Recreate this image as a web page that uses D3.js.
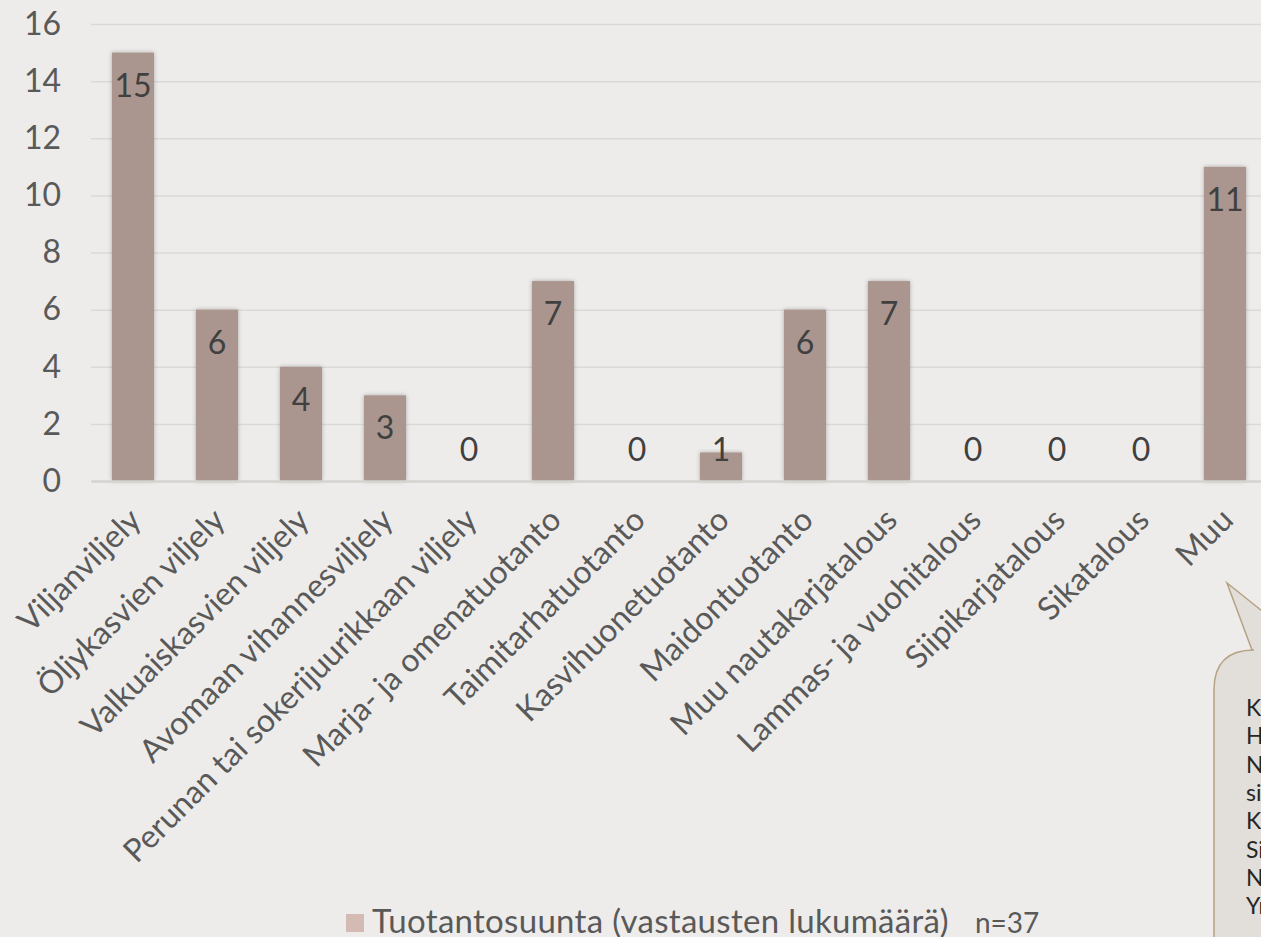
<!DOCTYPE html>
<html>
<head>
<meta charset="UTF-8">
<title>Tuotantosuunta</title>
<script src="https://cdnjs.cloudflare.com/ajax/libs/d3/7.8.5/d3.min.js"></script>
<style>
html, body { margin: 0; padding: 0; background: #edecea; overflow: hidden; }
svg { display: block; font-family: Lato, "Open Sans", sans-serif; }
</style>
</head>
<body>
<script>
// tuotantosuunnat ja vastausten lukumäärät
var categories = ["Viljanviljely", "Öljykasvien viljely", "Valkuaiskasvien viljely",
  "Avomaan vihannesviljely", "Perunan tai sokerijuurikkaan viljely", "Marja- ja omenatuotanto",
  "Taimitarhatuotanto", "Kasvihuonetuotanto", "Maidontuotanto", "Muu nautakarjatalous",
  "Lammas- ja vuohitalous", "Siipikarjatalous", "Sikatalous", "Muu"];
var values = [15, 6, 4, 3, 0, 7, 0, 1, 6, 7, 0, 0, 0, 11];
var yTicks = [0, 2, 4, 6, 8, 10, 12, 14, 16];
var seriesName = "Tuotantosuunta (vastausten lukumäärä)";
var nText = "n=37";
// kommenttilaatikon rivit (leikkautuvat kuvan reunaan)
var noteLines = ["Kuminan viljely", "Hevostalous", "Nurmen", "siementuotanto",
  "Kanatalous", "Sienet", "Nurmikasvit", "Yrtit"];

var W = 1261, H = 937;
var plotLeft = 91, plotRight = 1267, plotTop = 24, plotBottom = 481;

var svg = d3.select("body").append("svg")
    .attr("width", W)
    .attr("height", H);

svg.append("rect").attr("width", W).attr("height", H).attr("fill", "#edecea");

var defs = svg.append("defs");
var shadow = defs.append("filter").attr("id", "shadow")
    .attr("x", "-30%").attr("y", "-10%").attr("width", "160%").attr("height", "120%");
shadow.append("feDropShadow")
    .attr("dx", 0).attr("dy", 0)
    .attr("stdDeviation", 2)
    .attr("flood-color", "#000")
    .attr("flood-opacity", 0.28);

var x = d3.scaleBand()
    .domain(categories)
    .range([plotLeft, plotRight])
    .paddingInner(0.5)
    .paddingOuter(0.25);

var y = d3.scaleLinear()
    .domain([0, 16])
    .range([plotBottom, plotTop]);

// gridlines + y-akseli
var yAxis = svg.append("g")
    .attr("transform", "translate(" + plotLeft + ",0)")
    .call(d3.axisLeft(y).tickValues(yTicks).tickSize(-(plotRight - plotLeft)).tickPadding(30));
yAxis.select(".domain").remove();
yAxis.selectAll(".tick line")
    .attr("stroke", "#dbd9d5")
    .attr("stroke-width", 1.5);
yAxis.selectAll(".tick text")
    .attr("fill", "#595959")
    .attr("font-size", 32)
    .attr("font-family", "Lato");

// palkit
svg.append("g").selectAll("rect")
    .data(values)
    .join("rect")
    .attr("x", function(d, i) { return x(categories[i]); })
    .attr("y", function(d) { return y(d); })
    .attr("width", x.bandwidth())
    .attr("height", function(d) { return y(0) - y(d); })
    .attr("fill", "#aa968e")
    .style("filter", "url(#shadow)");

// x-akseli
var xAxis = svg.append("g")
    .attr("transform", "translate(0," + plotBottom + ")")
    .call(d3.axisBottom(x).tickSize(0).tickSizeOuter(0));
xAxis.select(".domain")
    .attr("stroke", "#d6d4d0")
    .attr("stroke-width", 2.5);
xAxis.selectAll(".tick text")
    .attr("fill", "#595959")
    .attr("font-size", 32)
    .attr("font-family", "Lato")
    .attr("text-anchor", "end")
    .attr("x", 0).attr("y", 0).attr("dy", 0)
    .attr("transform", "translate(10,41) rotate(-45)");

// arvot
svg.append("g").selectAll("text")
    .data(values)
    .join("text")
    .attr("x", function(d, i) { return x(categories[i]) + x.bandwidth() / 2; })
    .attr("y", function(d) { return Math.min(y(d) + 44, y(0) - 20); })
    .attr("text-anchor", "middle")
    .attr("font-size", 32)
    .attr("fill", "#404040")
    .text(function(d) { return d; });

// selite
svg.append("rect")
    .attr("x", 346).attr("y", 914)
    .attr("width", 18).attr("height", 18)
    .attr("fill", "#d3bbb3");
svg.append("text")
    .attr("x", 372).attr("y", 933)
    .attr("font-size", 33)
    .attr("letter-spacing", 0.3)
    .attr("fill", "#595959")
    .text(seriesName);
svg.append("text")
    .attr("x", 975).attr("y", 933)
    .attr("font-size", 28)
    .attr("fill", "#595959")
    .text(nText);

// puhekupla
var bx = 1214, by = 650, r = 40;
var bubble = "M" + bx + "," + (H + 10) +
    " L" + bx + "," + (by + r) +
    " Q" + bx + "," + by + " " + (bx + r) + "," + by +
    " L1252," + by +
    " L1227,583" +
    " L1311," + by +
    " L1400," + by +
    " L1400," + (H + 10) + " Z";
svg.append("path")
    .attr("d", bubble)
    .attr("fill", "#e2dfda")
    .attr("stroke", "#b5a282")
    .attr("stroke-width", 1.5);
svg.append("g").selectAll("text")
    .data(noteLines)
    .join("text")
    .attr("x", 1246)
    .attr("y", function(d, i) { return 716 + i * 28.3; })
    .attr("font-size", 23)
    .attr("fill", "#262626")
    .text(function(d) { return d; });
</script>
</body>
</html>
